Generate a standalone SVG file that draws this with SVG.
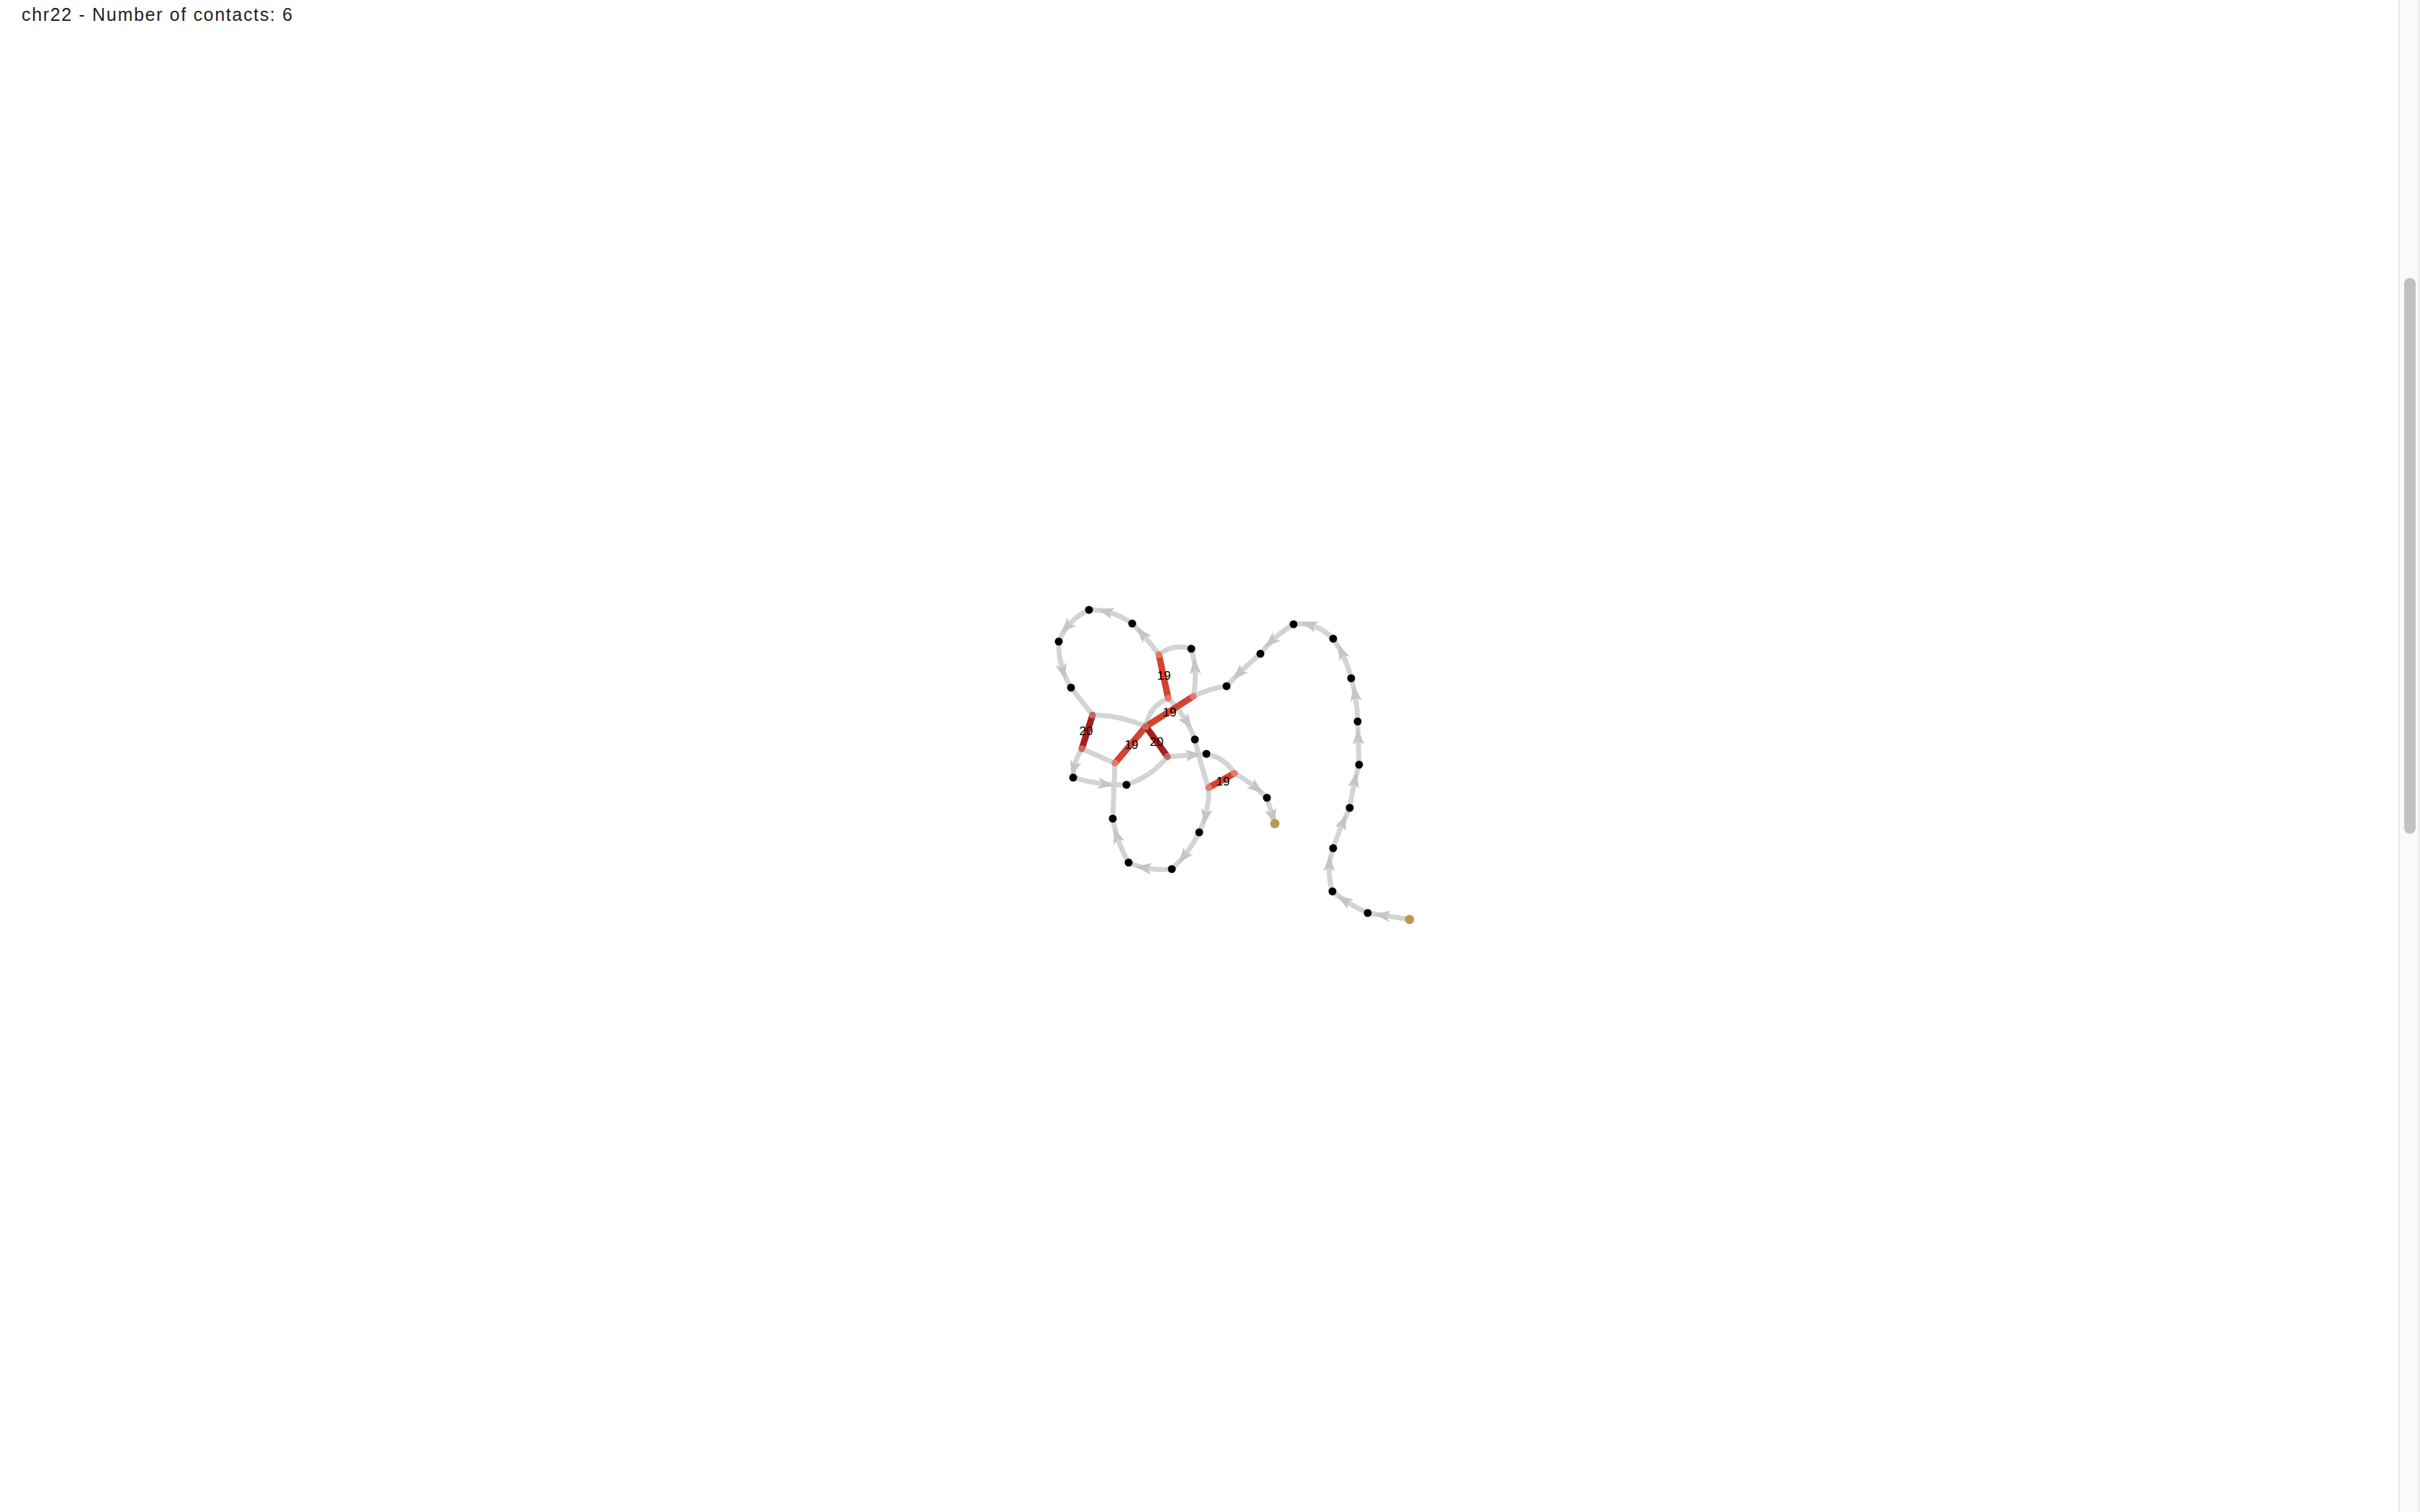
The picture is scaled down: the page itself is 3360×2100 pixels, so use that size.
<svg xmlns="http://www.w3.org/2000/svg" width="3360" height="2100" viewBox="0 0 3360 2100">
<style>
.link{fill:none;stroke:#d3d5d4;stroke-width:7}
.arr{marker-mid:url(#ah)}
.c19{fill:none;stroke:#d24332;stroke-width:9;stroke-linecap:round}
.c20{fill:none;stroke:#a61f1f;stroke-width:9;stroke-linecap:round}
.cap{fill:#f4bcb4;opacity:.45}
.lbl{font-family:"Liberation Sans",Arial,sans-serif;font-size:17px;fill:#000;text-anchor:middle;dominant-baseline:central}
.node{fill:#000}
.end{fill:#bb9955}
.title{font-family:"Liberation Sans",Arial,sans-serif;font-size:25px;fill:#222}
</style>
<defs>
<marker id="ah" markerUnits="userSpaceOnUse" orient="auto" markerWidth="40" markerHeight="40" viewBox="-10 -20 40 40" refX="0" refY="0" overflow="visible">
<path d="M20,0 L-2,-8 L3,0 L-2,8 Z" fill="#c3c6c4"/>
</marker>
</defs>
<rect width="3360" height="2100" fill="#fff"/>
<text class="title" x="30" y="29" textLength="376" lengthAdjust="spacing">chr22 - Number of contacts: 6</text>

<g id="scrollbar">
<rect x="3330" y="0" width="30" height="2100" fill="#fafafa"/>
<rect x="3330" y="0" width="2" height="2100" fill="#e6e6e6"/>
<rect x="3357" y="0" width="3" height="2100" fill="#eeeeee"/>
<rect x="3338" y="386" width="16" height="772" rx="8" fill="#c1c1c1"/>
</g>

<g id="links">
<path class="link arr" d="M1957,1277 Q1942.5,1274.75 1928,1272.5 T1899,1268"/>
<path class="link arr" d="M1899,1268 Q1885.7,1262.2 1873.5,1254.7 T1850,1238"/>
<path class="link arr" d="M1850,1238 Q1845.25,1222.9 1845.5,1207.9 T1851,1178"/>
<path class="link arr" d="M1851,1178 Q1855.8,1163.6 1861.6,1149.6 T1874,1122"/>
<path class="link arr" d="M1874,1122 Q1876.3,1106.8 1879.5,1091.8 T1887,1062"/>
<path class="link arr" d="M1887,1062 Q1886.5,1047 1886,1032 T1885,1002"/>
<path class="link arr" d="M1885,1002 Q1884.7,986.7 1882.5,971.7 T1876,942"/>
<path class="link arr" d="M1876,942 Q1872.5,927 1866.2,913.3 T1851,887"/>
<path class="link arr" d="M1851,887 Q1839.6,875.4 1825.9,870.4 T1796,867"/>
<path class="link arr" d="M1796,867 Q1782.5,875 1771,885.3 T1750,908"/>
<path class="link arr" d="M1750,908 Q1737.6,918.5 1725.8,929.8 T1703,953"/>
<path class="link" d="M1703,953 Q1678.8,956.2 1657,967"/>
<path class="link arr" d="M1657,967 Q1660.2,950.3 1659.5,933.8 T1654,901"/>
<path class="link" d="M1654,901 Q1629.4,893.2 1609,909"/>
<path class="link arr" d="M1609,909 Q1600.5,897.6 1591.3,886.8 T1572,866"/>
<path class="link arr" d="M1572,866 Q1558.5,856.5 1543.5,851.7 T1512,847"/>
<path class="link arr" d="M1512,847 Q1497.2,853.9 1486.7,864.9 T1470,891"/>
<path class="link arr" d="M1470,891 Q1469.4,908.3 1473.7,924.3 T1487,955"/>
<path class="link" d="M1487,955 L1517,993"/>
<path class="link" d="M1517,993 Q1555.7,993.2 1591,1009"/>
<path class="link" d="M1591,1009 Q1595.5,980.8 1622,970"/>
<path class="link arr" d="M1622,970 Q1634.6,982.1 1643.85,996.3 T1659,1027"/>
<path class="link" d="M1659,1027 Q1666.6,1061 1678,1094"/>
<path class="link arr" d="M1678,1094 Q1678.7,1110.3 1675.4,1125.8 T1665,1156"/>
<path class="link arr" d="M1665,1156 Q1657.9,1170.5 1648.4,1183.3 T1627,1207"/>
<path class="link arr" d="M1627,1207 Q1611.4,1208.7 1596.4,1206.5 T1567,1198"/>
<path class="link arr" d="M1567,1198 Q1558.7,1183.8 1553.2,1168.5 T1545,1137"/>
<path class="link" d="M1545,1137 L1548,1060"/>
<path class="link" d="M1548,1060 L1502,1040"/>
<path class="link arr" d="M1502,1040 Q1496.1,1049.1 1493.1,1059.1 T1490,1080"/>
<path class="link arr" d="M1490,1080 Q1508.1,1085.5 1526.6,1088 T1564,1090"/>
<path class="link" d="M1564,1090 Q1598.1,1078.7 1621,1051"/>
<path class="link arr" d="M1621,1051 Q1634.5,1050 1648,1049 T1675,1047"/>
<path class="link" d="M1675,1047 Q1700.2,1052.3 1714,1074"/>
<path class="link arr" d="M1714,1074 Q1726.5,1080.9 1737.7,1089.4 T1759,1108"/>
<path class="link arr" d="M1759,1108 Q1761.75,1117 1764.5,1126 T1770,1144"/>
</g>

<g id="contacts">
<path class="c19" d="M1609,909 L1622,970"/>
<path class="c19" d="M1591,1009 L1657,967"/>
<path class="c19" d="M1548,1060 L1591,1009"/>
<path class="c20" d="M1591,1009 L1621,1051"/>
<path class="c20" d="M1517,993 L1502,1040"/>
<path class="c19" d="M1678,1094 L1714,1074"/>
<g class="caps">
<circle class="cap" cx="1609" cy="909" r="5"/>
<circle class="cap" cx="1622" cy="970" r="5"/>
<circle class="cap" cx="1657" cy="967" r="5"/>
<circle class="cap" cx="1591" cy="1009" r="5"/>
<circle class="cap" cx="1548" cy="1060" r="5"/>
<circle class="cap" cx="1621" cy="1051" r="5"/>
<circle class="cap" cx="1517" cy="993" r="5"/>
<circle class="cap" cx="1502" cy="1040" r="5"/>
<circle class="cap" cx="1678" cy="1094" r="5"/>
<circle class="cap" cx="1714" cy="1074" r="5"/>
</g>
<text class="lbl" x="1616" y="938">19</text>
<text class="lbl" x="1624" y="989">19</text>
<text class="lbl" x="1571" y="1034">19</text>
<text class="lbl" x="1606" y="1030">20</text>
<text class="lbl" x="1508" y="1015">20</text>
<text class="lbl" x="1698" y="1085">19</text>
</g>

<g id="nodes">
<g id="n-start"><circle class="end" cx="1957" cy="1277" r="6.5"/></g>
<g id="n25"><circle class="node" cx="1899" cy="1268" r="5.5"/></g>
<g id="n24"><circle class="node" cx="1850" cy="1238" r="5.5"/></g>
<g id="n23"><circle class="node" cx="1851" cy="1178" r="5.5"/></g>
<g id="n22"><circle class="node" cx="1874" cy="1122" r="5.5"/></g>
<g id="n21"><circle class="node" cx="1887" cy="1062" r="5.5"/></g>
<g id="n20"><circle class="node" cx="1885" cy="1002" r="5.5"/></g>
<g id="n19"><circle class="node" cx="1876" cy="942" r="5.5"/></g>
<g id="n18"><circle class="node" cx="1851" cy="887" r="5.5"/></g>
<g id="n17"><circle class="node" cx="1796" cy="867" r="5.5"/></g>
<g id="n16"><circle class="node" cx="1750" cy="908" r="5.5"/></g>
<g id="n15"><circle class="node" cx="1703" cy="953" r="5.5"/></g>
<g id="n14"><circle class="node" cx="1654" cy="901" r="5.5"/></g>
<g id="n13"><circle class="node" cx="1572" cy="866" r="5.5"/></g>
<g id="n12"><circle class="node" cx="1512" cy="847" r="5.5"/></g>
<g id="n11"><circle class="node" cx="1470" cy="891" r="5.5"/></g>
<g id="n10"><circle class="node" cx="1487" cy="955" r="5.5"/></g>
<g id="n9"><circle class="node" cx="1659" cy="1027" r="5.5"/></g>
<g id="n8"><circle class="node" cx="1665" cy="1156" r="5.5"/></g>
<g id="n7"><circle class="node" cx="1627" cy="1207" r="5.5"/></g>
<g id="n6"><circle class="node" cx="1567" cy="1198" r="5.5"/></g>
<g id="n5"><circle class="node" cx="1545" cy="1137" r="5.5"/></g>
<g id="n4"><circle class="node" cx="1490" cy="1080" r="5.5"/></g>
<g id="n3"><circle class="node" cx="1564" cy="1090" r="5.5"/></g>
<g id="n2"><circle class="node" cx="1675" cy="1047" r="5.5"/></g>
<g id="n1"><circle class="node" cx="1759" cy="1108" r="5.5"/></g>
<g id="n-end"><circle class="end" cx="1770" cy="1144" r="6.5"/></g>
</g>
</svg>
